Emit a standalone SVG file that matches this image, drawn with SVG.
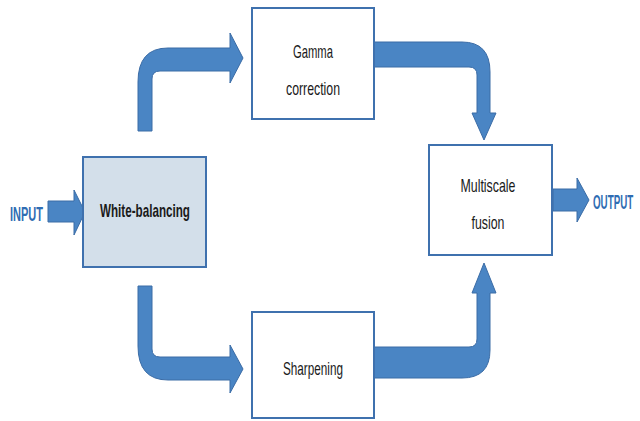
<svg xmlns="http://www.w3.org/2000/svg" width="640" height="421" viewBox="0 0 640 421">
<style>
.box{fill:#ffffff;stroke:#3f71ae;stroke-width:2}
.wb{fill:#d3dfea}
.arr{fill:#4a85c4;stroke:#3b6ca6;stroke-width:1}
.lbl{font-family:"Liberation Sans",Arial,sans-serif;font-size:19px;fill:#1a1a1a;text-anchor:middle}
.io{font-family:"Liberation Sans",Arial,sans-serif;font-size:20px;font-weight:bold;fill:#2f6db3}
</style>
<rect width="640" height="421" fill="#ffffff"/>
<g id="connectors">
<path class="arr" d="M48,201 H74 V190 L85,212 L74,235 V222 H48 Z"/>
<path class="arr" d="M138,131 V82 Q138,48 168,48 H230 V33 L243,58 L230,83 V71 H160 Q152,71 152,79 V131 Z"/>
<path class="arr" d="M138,286 H152 V349 Q152,357 160,357 H230 V345 L243,369 L230,393 V380 H168 Q138,380 138,346 Z"/>
<path class="arr" d="M374,42 H462 Q490,42 490,72 V113 H496 L484,140 L472,113 H477 V75 Q477,67 469,67 H374 Z"/>
<path class="arr" d="M374,347 H469 Q477,347 477,339 V293 H472 L484,263 L496,293 H490 V350 Q490,378 462,378 H374 Z"/>
<path class="arr" d="M553,189 H577 V178 L589,200 L577,222 V211 H553 Z"/>
</g>
<g id="input"><text class="io" x="10" y="221" textLength="33" lengthAdjust="spacingAndGlyphs">INPUT</text></g>
<g id="white-balancing">
<rect class="box wb" x="83" y="157" width="123" height="110"/>
<text class="lbl" x="145" y="217" font-weight="bold" textLength="90" lengthAdjust="spacingAndGlyphs">White-balancing</text>
</g>
<g id="gamma">
<rect class="box" x="252" y="8" width="122" height="111"/>
<text class="lbl" x="313" y="58" textLength="40" lengthAdjust="spacingAndGlyphs">Gamma</text>
<text class="lbl" x="313" y="95" textLength="54" lengthAdjust="spacingAndGlyphs">correction</text>
</g>
<g id="sharpening">
<rect class="box" x="252" y="312" width="122" height="106"/>
<text class="lbl" x="313" y="375" textLength="60" lengthAdjust="spacingAndGlyphs">Sharpening</text>
</g>
<g id="multiscale">
<rect class="box" x="429" y="145" width="123" height="110"/>
<text class="lbl" x="488" y="192" textLength="55" lengthAdjust="spacingAndGlyphs">Multiscale</text>
<text class="lbl" x="488" y="229" textLength="33" lengthAdjust="spacingAndGlyphs">fusion</text>
</g>
<g id="output"><text class="io" transform="translate(593 209) scale(0.49 1)" x="0" y="0">OUTPUT</text></g>
</svg>
